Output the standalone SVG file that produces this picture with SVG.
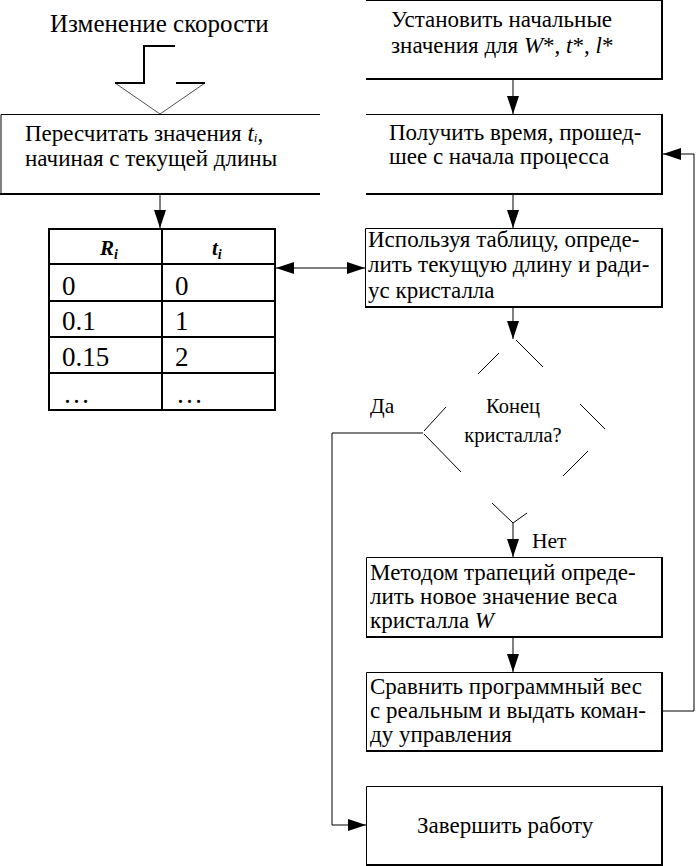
<svg xmlns="http://www.w3.org/2000/svg" width="697" height="866" viewBox="0 0 697 866" font-family="'Liberation Serif', 'DejaVu Serif', 'Times New Roman', serif">
<defs>
<style>
text{font-family:'Liberation Serif','DejaVu Serif','Times New Roman',serif;fill:#000}
.t{font-size:23px}
.lb{font-size:21.5px}
.big{font-size:25px}
.tv{font-size:27px}
.th{font-size:21px}
.dm{font-size:20.5px}
.it{font-style:italic}
.bi{font-style:italic;font-weight:bold}
.thin{stroke:#000;stroke-width:1;fill:none}
.thick{stroke:#000;stroke-width:2;fill:none}
.conn{stroke:#000;stroke-width:1;fill:none}
.dia{stroke:#000;stroke-width:1;fill:none}
</style>
<marker id="ah" markerUnits="userSpaceOnUse" markerWidth="18" markerHeight="12" refX="18" refY="6" orient="auto-start-reverse" viewBox="0 0 18 12">
<path d="M0,0 L18,6 L0,12 z" fill="#000"/>
</marker>
</defs>
<rect width="697" height="866" fill="#fff"/>

<g id="speed-change">
<text class="big" x="50" y="32">Изменение скорости</text>
<path class="thick" d="M175,46 H144 V83 H115"/>
<path class="thick" d="M176,83 H205"/>
<path stroke="#000" stroke-width="0.7" fill="none" d="M115,83 L160,114 L205,83"/>
</g>

<g id="recalc">
<path class="thin" d="M1,194 V114.5 H320"/>
<path class="thick" d="M0,194 H320"/>
<text class="t" x="25" y="141">Пересчитать значения <tspan class="it">t</tspan><tspan class="it" font-size="13" dy="1">i</tspan><tspan dy="-1">,</tspan></text>
<text class="t" x="25" y="166">начиная с текущей длины</text>
</g>

<g id="table">
<path class="thick" d="M49,229 H275 V410 H49 Z M162,229 V410 M49,264 H275 M49,301 H275 M49,337 H275 M49,373 H275"/>
<text class="th bi" x="100" y="255">R<tspan font-size="14" dy="4">i</tspan></text>
<text class="th bi" x="212" y="255">t<tspan font-size="14" dy="4">i</tspan></text>
<text class="tv" x="62" y="295">0</text>
<text class="tv" x="175" y="295">0</text>
<text class="tv" x="62" y="330">0.1</text>
<text class="tv" x="175" y="330">1</text>
<text class="tv" x="62" y="366">0.15</text>
<text class="tv" x="175" y="366">2</text>
<text class="tv" x="63" y="403">…</text>
<text class="tv" x="176" y="403">…</text>
</g>

<g id="init">
<path class="thin" d="M366,0.5 H662"/>
<path class="thick" d="M366,79 H662 V0"/>
<text class="t" x="391" y="27">Установить начальные</text>
<text class="t" x="391" y="53">значения для <tspan class="it">W</tspan>*, <tspan class="it">t</tspan>*, <tspan class="it">l</tspan>*</text>
</g>

<g id="get-time">
<path class="thin" d="M366,114.5 H662"/>
<path class="thick" d="M366,194 H662 V114"/>
<text class="t" x="389" y="140">Получить время, прошед-</text>
<text class="t" x="389" y="164">шее с начала процесса</text>
</g>

<g id="lookup">
<path class="thin" d="M365.5,307 V228.5 H662"/>
<path class="thick" d="M365,307 H662 V228"/>
<text class="t" x="368" y="247">Используя таблицу, опреде-</text>
<text class="t" x="368" y="272">лить текущую длину и ради-</text>
<text class="t" x="368" y="298">ус кристалла</text>
</g>

<g id="decision">
<path class="dia" d="M516,340 L543,367 M499,353 L478,374 M446,407 L424,431 M424,434 L461,472 M580,404 L605,429 M588,451 L563,476 M492,503 L513,523 M527,513 L513,523"/>
<text class="dm" x="513" y="413" text-anchor="middle">Конец</text>
<text class="dm" x="513" y="442" text-anchor="middle">кристалла?</text>
</g>

<g id="trapezoid">
<path class="thin" d="M366.5,637 V557.5 H662"/>
<path class="thick" d="M366,637 H662 V557"/>
<text class="t" x="370" y="580">Методом трапеций опреде-</text>
<text class="t" x="370" y="604">лить новое значение веса</text>
<text class="t" x="370" y="628">кристалла <tspan class="it">W</tspan></text>
</g>

<g id="compare">
<path class="thin" d="M366.5,751 V672.5 H662"/>
<path class="thick" d="M366,751 H662 V672"/>
<text class="t" x="370" y="694">Сравнить программный вес</text>
<text class="t" x="370" y="718">с реальным и выдать коман-</text>
<text class="t" x="370" y="742">ду управления</text>
</g>

<g id="finish">
<path class="thin" d="M366.5,866 V786.5 H662"/>
<path class="thick" d="M366,865 H662 V786"/>
<text class="t" x="417" y="833">Завершить работу</text>
</g>

<g id="labels">
<text class="lb" x="370" y="413">Да</text>
<text class="lb" x="532" y="548">Нет</text>
</g>

<g id="connectors">
<path class="conn" d="M513,80 V114" marker-end="url(#ah)"/>
<path class="conn" d="M513,195 V228" marker-end="url(#ah)"/>
<path class="conn" d="M513,308 V339" marker-end="url(#ah)"/>
<path class="conn" d="M513,523 V557" marker-end="url(#ah)"/>
<path class="conn" d="M513,638 V672" marker-end="url(#ah)"/>
<path class="conn" d="M160,195 V228" marker-end="url(#ah)"/>
<path class="conn" d="M276,268 H365" marker-start="url(#ah)" marker-end="url(#ah)"/>
<path class="conn" d="M423,433 H332 V825 H366" marker-end="url(#ah)"/>
<path class="conn" d="M663,711 H694 V154 H663" marker-end="url(#ah)"/>
</g>
</svg>
